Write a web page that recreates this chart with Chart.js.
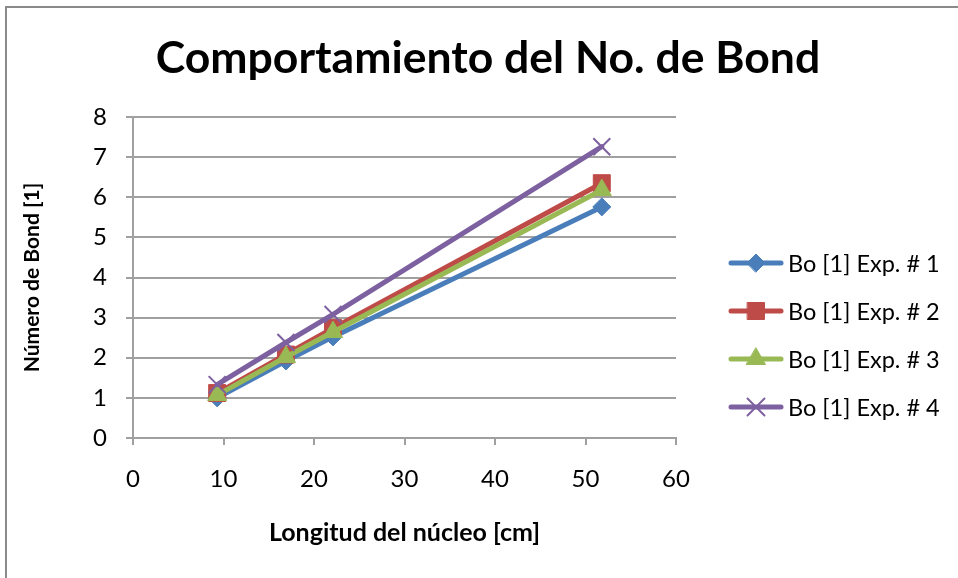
<!DOCTYPE html>
<html>
<head>
<meta charset="utf-8">
<script src="https://cdn.jsdelivr.net/npm/chart.js@4"></script>
<style>
  html, body { margin: 0; padding: 0; background: #fff; }
  #wrap { width: 958px; height: 578px; }
</style>
</head>
<body>
<div id="wrap"><canvas id="chart" width="958" height="578"></canvas></div>
<script>
// Comportamiento del No. de Bond — four experiments, Bond number vs core length.

const lengths = [9.3, 16.9, 22.1, 51.8];          // Longitud del núcleo [cm]
const bo1 = [1.0, 1.92, 2.52, 5.76];
const bo2 = [1.12, 2.08, 2.74, 6.35];
const bo3 = [1.07, 2.02, 2.64, 6.18];
const bo4 = [1.33, 2.38, 3.08, 7.26];
const seriesNames = ["Bo [1] Exp. # 1", "Bo [1] Exp. # 2", "Bo [1] Exp. # 3", "Bo [1] Exp. # 4"];

const FONT = "Lato, 'Open Sans', sans-serif";
const GRID = "#a0a0a0";

const styles = [
  { color: "#4a7ebb", pointStyle: "rectRot", radius: 9, bw: 1 },
  { color: "#be4b48", pointStyle: "rect", radius: 12, bw: 1 },
  { color: "#98b954", pointStyle: "triangle", radius: 11, bw: 1 },
  { color: "#7d60a0", pointStyle: "crossRot", radius: 12, bw: 2 },
];

const allSeries = [bo1, bo2, bo3, bo4];
const datasets = allSeries.map((vals, i) => ({
  label: seriesNames[i],
  data: vals.map((v, j) => ({ x: lengths[j], y: v })),
  borderColor: styles[i].color,
  backgroundColor: styles[i].color,
  pointBackgroundColor: styles[i].color,
  pointBorderColor: styles[i].color,
  pointStyle: styles[i].pointStyle,
  pointRadius: styles[i].radius,
  pointBorderWidth: styles[i].bw,
  borderWidth: 5,
  borderCapStyle: "round",
  borderJoinStyle: "round",
  tension: 0,
  order: allSeries.length - 1 - i,   // last experiment drawn on top
}));

// frame, title and an Excel-style legend (line + marker)
const decor = {
  id: "decor",
  beforeDraw(chart) {
    const ctx = chart.ctx;
    ctx.save();
    ctx.fillStyle = "#fff";
    ctx.fillRect(0, 0, chart.width, chart.height);
    ctx.strokeStyle = "#8a8a8a";
    ctx.lineWidth = 2;
    ctx.strokeRect(6, 7, 1000, 1000);
    ctx.restore();
  },
  afterDraw(chart) {
    const ctx = chart.ctx;
    ctx.save();
    ctx.fillStyle = "#000";
    ctx.font = "bold 44.5px " + FONT;
    ctx.textAlign = "center";
    ctx.textBaseline = "middle";
    ctx.fillText("Comportamiento del No. de Bond", 488, 59);

    const rowY = [263, 311, 359, 407];
    chart.data.datasets.forEach((ds, i) => {
      const y = rowY[i];
      ctx.strokeStyle = ds.borderColor;
      ctx.lineWidth = 5;
      ctx.lineCap = "round";
      ctx.beginPath();
      ctx.moveTo(731, y);
      ctx.lineTo(781, y);
      ctx.stroke();
      ctx.fillStyle = ds.pointBackgroundColor;
      ctx.lineWidth = ds.pointBorderWidth;
      Chart.helpers.drawPoint(ctx, { pointStyle: ds.pointStyle, radius: ds.pointRadius, rotation: 0, borderWidth: ds.pointBorderWidth }, 756, y);
      ctx.fillStyle = "#000";
      ctx.font = "23.5px " + FONT;
      ctx.textAlign = "left";
      ctx.fillText(ds.label, 788, y + 1);
    });
    ctx.restore();
  },
};

new Chart(document.getElementById("chart"), {
  type: "line",
  data: { datasets },
  plugins: [decor],
  options: {
    responsive: false,
    animation: false,
    layout: { padding: { top: 117, right: 282, bottom: 0, left: 0 } },
    plugins: { legend: { display: false }, tooltip: { enabled: false }, title: { display: false } },
    scales: {
      x: {
        type: "linear",
        min: 0, max: 60,
        afterFit(scale) { scale.height = 140; },
        ticks: { stepSize: 10, color: "#000", padding: 20, font: { family: FONT, size: 24 } },
        grid: { drawOnChartArea: false, color: GRID, lineWidth: 2, tickLength: 7 },
        border: { color: GRID, width: 2 },
        title: { display: true, text: "Longitud del núcleo [cm]", color: "#000",
                 font: { family: FONT, size: 25, weight: "bold" }, padding: { top: 0, bottom: 30 } },
      },
      y: {
        min: 0, max: 8,
        afterFit(scale) { scale.width = 133; },
        ticks: { stepSize: 1, color: "#000", padding: 19, font: { family: FONT, size: 24 } },
        grid: { color: GRID, lineWidth: 2, tickLength: 7 },
        border: { color: GRID, width: 2 },
        title: { display: true, text: "Número de Bond [1]", color: "#000",
                 font: { family: FONT, size: 21, weight: "bold" }, padding: { top: 20, bottom: 0 } },
      },
    },
  },
});
</script>
</body>
</html>
